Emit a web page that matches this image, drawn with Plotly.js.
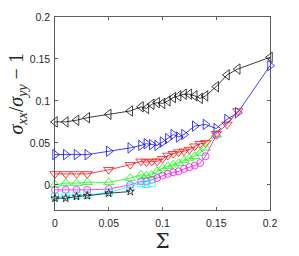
<!DOCTYPE html>
<html>
<head>
<meta charset="utf-8">
<script src="https://cdn.plot.ly/plotly-3.0.1.min.js"></script>
<style>html,body{margin:0;padding:0;background:#fff;}#chart{width:299px;height:256px;}</style>
</head>
<body>
<div id="chart"></div>
<script>
// Series data (x = Sigma, y = sigma_xx/sigma_yy - 1)
var blackX = [0,0.01,0.02,0.03,0.05,0.07,0.08,0.085,0.09,0.095,0.1,0.105,0.11,0.115,0.12,0.125,0.13,0.135,0.14,0.15,0.16,0.17,0.2];
var blackY = [0.075,0.075,0.077,0.080,0.084,0.088,0.093,0.091,0.096,0.098,0.097,0.100,0.104,0.106,0.108,0.108,0.106,0.103,0.106,0.117,0.131,0.138,0.152];

var blueX = [0,0.01,0.02,0.03,0.05,0.07,0.08,0.085,0.09,0.095,0.1,0.105,0.11,0.115,0.12,0.13,0.14,0.15,0.16,0.17,0.2];
var blueY = [0.036,0.036,0.036,0.036,0.040,0.044,0.047,0.049,0.048,0.047,0.051,0.055,0.060,0.057,0.060,0.070,0.072,0.067,0.078,0.086,0.142];

var redX = [0,0.01,0.02,0.03,0.05,0.07,0.08,0.085,0.09,0.095,0.1,0.105,0.11,0.115,0.12,0.125,0.13,0.135,0.14,0.15,0.16,0.17];
var redY = [0.013,0.013,0.013,0.013,0.018,0.024,0.028,0.027,0.028,0.028,0.031,0.035,0.037,0.039,0.040,0.042,0.046,0.049,0.050,0.061,0.072,0.088];

var greenX = [0,0.01,0.02,0.03,0.05,0.07,0.08,0.085,0.09,0.095,0.1,0.105,0.11,0.115,0.12,0.125,0.13,0.135,0.14,0.15];
var greenY = [0.000,0.002,0.002,0.003,0.003,0.008,0.012,0.011,0.012,0.016,0.020,0.022,0.024,0.026,0.029,0.032,0.034,0.038,0.044,0.060];

var magentaX = [0,0.01,0.02,0.03,0.05,0.07,0.08,0.085,0.09,0.095,0.1,0.105,0.11,0.115,0.12,0.125,0.13,0.135,0.14,0.15];
var magentaY = [-0.006,-0.006,-0.006,-0.006,-0.005,0.000,0.004,0.004,0.006,0.008,0.011,0.013,0.015,0.016,0.019,0.021,0.023,0.026,0.034,0.059];

var cyanX = [0,0.01,0.02,0.03,0.05,0.07,0.08,0.085,0.09];
var cyanY = [-0.014,-0.013,-0.012,-0.012,-0.009,-0.002,0.002,0.001,0.002];

var starX = [0,0.01,0.02,0.03,0.05,0.07];
var starY = [-0.016,-0.016,-0.014,-0.013,-0.010,-0.008];

var xTicks = [0,0.05,0.1,0.15,0.2];
var yTicks = [0,0.05,0.1,0.15,0.2];

function tr(x, y, color, symbol, size) {
  return {
    x: x, y: y, type: 'scatter', mode: 'lines+markers', cliponaxis: false,
    line: {color: color, width: 0.75},
    marker: {symbol: symbol, size: size, color: color, line: {color: color, width: 0.75}}
  };
}

var data = [
  tr(blackX, blackY, '#000000', 'triangle-left-open', 9),
  tr(blueX, blueY, '#0000ff', 'triangle-right-open', 9),
  tr(redX, redY, '#ff0000', 'triangle-down-open', 9),
  tr(greenX, greenY, '#00ff00', 'triangle-up-open', 9),
  tr(magentaX, magentaY, '#ff00ff', 'circle-open', 7),
  tr(cyanX, cyanY, '#00ffff', 'square-open', 7),
  tr(starX, starY, '#000000', 'star-open', 6)
];

var axisCommon = {
  showline: true, mirror: 'ticks', linecolor: '#262626', linewidth: 0.75,
  ticks: 'inside', ticklen: 3, tickwidth: 0.75, tickcolor: '#262626',
  showgrid: false, zeroline: false,
  tickfont: {family: 'Liberation Sans, Arial, sans-serif', size: 10.5, color: '#262626'}
};

var layout = {
  width: 299, height: 256,
  margin: {l: 55, r: 29, t: 17, b: 46},
  paper_bgcolor: '#ffffff', plot_bgcolor: '#ffffff',
  showlegend: false,
  xaxis: Object.assign({}, axisCommon, {
    range: [0, 0.2], tickvals: xTicks, ticktext: xTicks.map(String), ticklabelstandoff: 4,
    title: {text: 'Σ', font: {family: 'DejaVu Serif, Liberation Serif, serif', size: 20, color: '#262626'}, standoff: 4}
  }),
  yaxis: Object.assign({}, axisCommon, {
    range: [-0.03, 0.2], tickvals: yTicks, ticktext: yTicks.map(String), ticklabelstandoff: 2
  }),
  annotations: [{
    text: '<i>σ</i><sub><i>xx</i></sub>/<i>σ</i><sub><i>yy</i></sub> − 1',
    xref: 'paper', yref: 'paper', x: -0.175, y: 0.6, xanchor: 'center', yanchor: 'middle',
    textangle: -90, showarrow: false,
    font: {family: 'Liberation Serif, DejaVu Serif, serif', size: 20, color: '#262626'}
  }]
};

Plotly.newPlot('chart', data, layout, {displayModeBar: false, staticPlot: true});
</script>
</body>
</html>
